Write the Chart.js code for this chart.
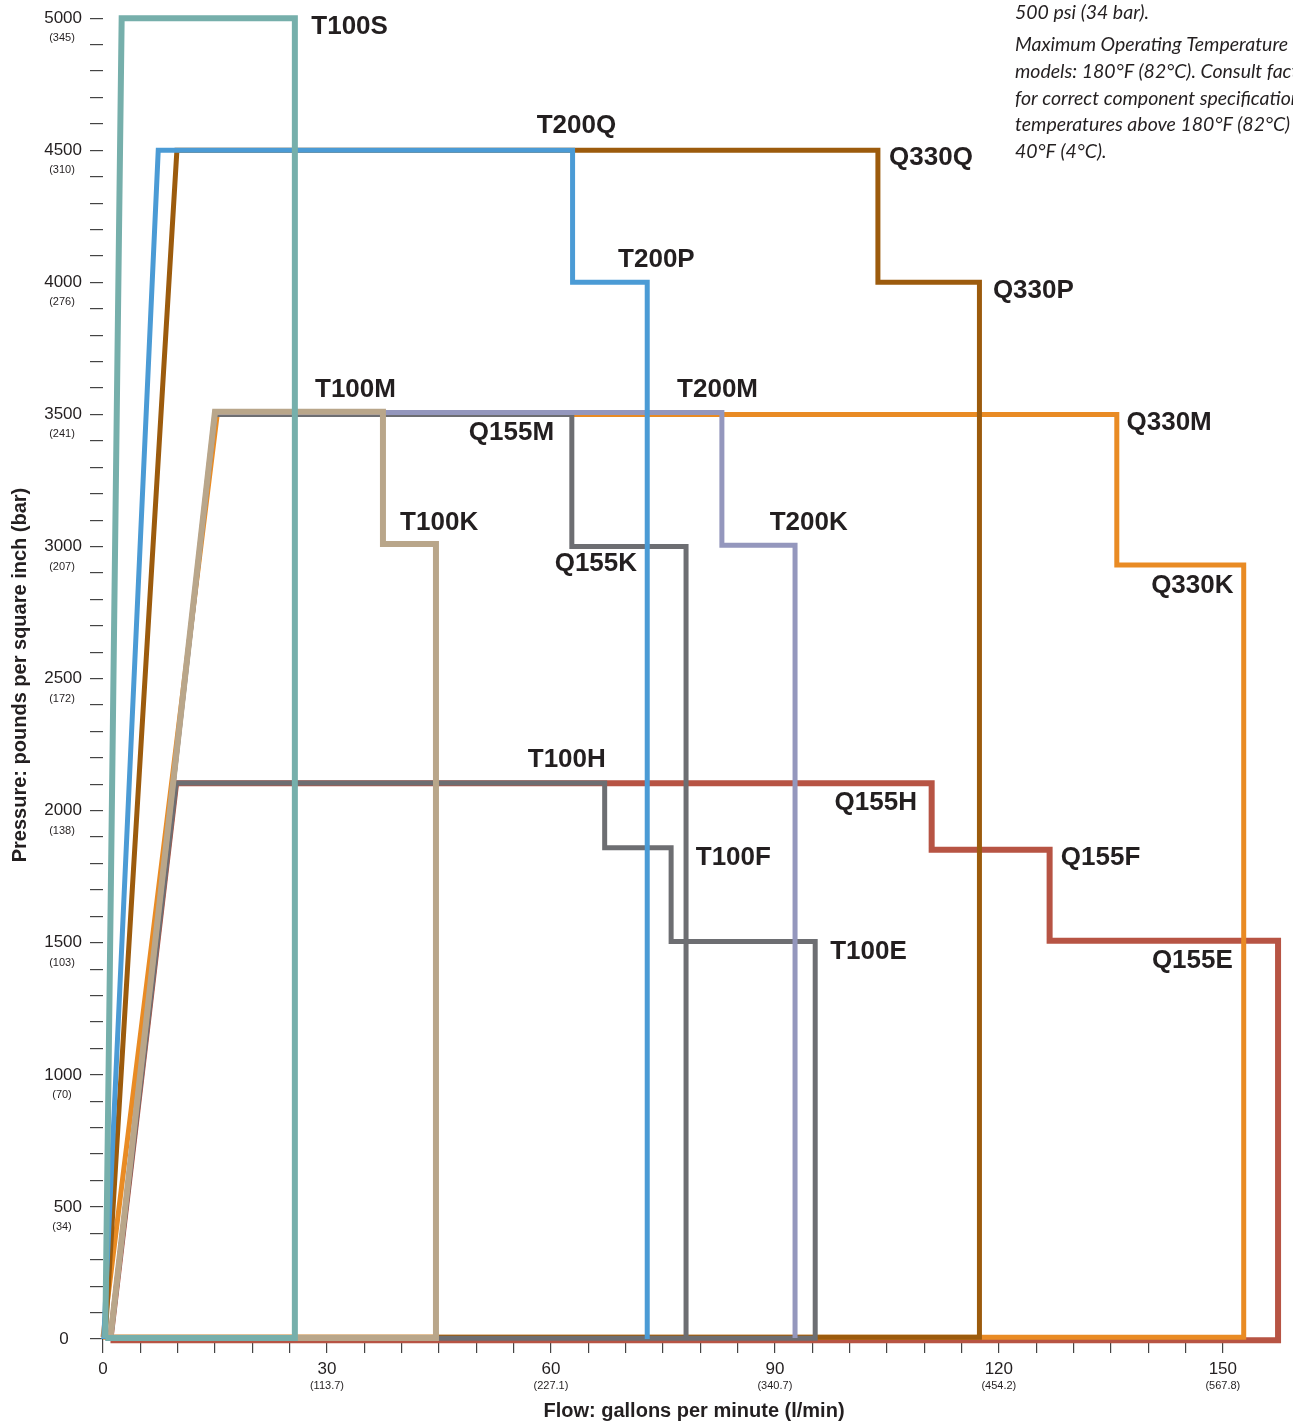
<!DOCTYPE html>
<html>
<head>
<meta charset="utf-8">
<script src="https://cdn.jsdelivr.net/npm/chart.js@4.4.1/dist/chart.umd.min.js"></script>
<style>
  html, body { margin: 0; padding: 0; background: #fff; }
  #wrap { width: 1293px; height: 1425px; position: relative; }
</style>
</head>
<body>
<div id="wrap"><canvas id="chart"></canvas></div>
<script>
// flow (gpm) / pressure (psi) outlines
const t100sX = [0.3, 2.5, 25.7, 25.7, 0.3];
const t100sY = [4, 5000, 5000, 4, 4];
const t200X = [0.1, 7.4, 62.9, 62.9, 72.9, 72.9];
const t200Y = [0, 4500, 4500, 4000, 4000, 0];
const q330qX = [0.3, 9.9, 103.8, 103.8, 117.4, 117.4, 0.3];
const q330qY = [7, 4500, 4500, 4000, 4000, 7, 7];
const t100mX = [1, 15, 37.5, 37.5, 44.6, 44.6, 1];
const t100mY = [4, 3510, 3510, 3010, 3010, 4, 4];
const t200mX = [1, 15, 82.9, 82.9, 92.7, 92.7];
const t200mY = [0, 3507, 3507, 3005, 3005, 4];
const q155mX = [1, 15, 62.8, 62.8, 78.1, 78.1];
const q155mY = [0, 3500, 3500, 3000, 3000, 4];
const q330mX = [0, 15.3, 135.8, 135.8, 152.8, 152.8, 0];
const q330mY = [7, 3500, 3500, 2930, 2930, 7, 7];
const t100hX = [1, 9.8, 67.2, 67.2, 76.1, 76.1, 95.4, 95.4, 1];
const t100hY = [0, 2105, 2105, 1860, 1860, 1505, 1505, 3, 3];
const q155hX = [1, 9.8, 111.0, 111.0, 126.8, 126.8, 157.4, 157.4, 1];
const q155hY = [0, 2104, 2104, 1852, 1852, 1508, 1508, -5, -5];

// model labels and where they sit (gpm, psi)
const modelNames = ['T100S', 'T200Q', 'Q330Q', 'T200P', 'Q330P', 'T100M', 'T200M', 'Q155M', 'Q330M',
  'T100K', 'T200K', 'Q155K', 'Q330K', 'T100H', 'Q155H', 'T100F', 'Q155F', 'T100E', 'Q155E'];
const labelGpm = [27.9, 58.1, 105.3, 69.0, 119.2, 28.4, 76.9, 49.0, 137.1,
  39.8, 89.3, 60.5, 140.4, 56.9, 98.0, 79.4, 128.3, 97.4, 140.5];
const labelPsi = [4966, 4592, 4471, 4085, 3968, 3594, 3594, 3432, 3469,
  3091, 3091, 2933, 2850, 2192, 2029, 1822, 1822, 1466, 1432];

// tick labels
const gpmMajor = [0, 30, 60, 90, 120, 150];
const lpmLabels = ['', '(113.7)', '(227.1)', '(340.7)', '(454.2)', '(567.8)'];
const psiMajor = [0, 500, 1000, 1500, 2000, 2500, 3000, 3500, 4000, 4500, 5000];
const barLabels = ['', '(34)', '(70)', '(103)', '(138)', '(172)', '(207)', '(241)', '(276)', '(310)', '(345)'];

const notes = [
  '500 psi (34 bar).',
  'Maximum Operating Temperature for all',
  'models: 180°F (82°C). Consult factory',
  'for correct component specifications',
  'temperatures above 180°F (82°C) or below',
  '40°F (4°C).'
];

function pts(xs, ys) {
  return xs.map((x, i) => ({ x: x, y: ys[i] }));
}

function outline(name, xs, ys, color, width) {
  return {
    label: name,
    data: pts(xs, ys),
    showLine: true,
    borderColor: color,
    backgroundColor: color,
    borderWidth: width || 5,
    pointRadius: 0,
    tension: 0,
    borderJoinStyle: 'miter',
    clip: false
  };
}

const extras = {
  id: 'extras',
  afterDraw(chart) {
    const ctx = chart.ctx;
    const xs = chart.scales.x;
    const ys = chart.scales.y;
    ctx.save();
    ctx.fillStyle = '#231f20';
    ctx.textAlign = 'center';
    ctx.textBaseline = 'middle';

    // the y "0" sits further left than the others
    ctx.font = '17px "Liberation Sans", Arial, sans-serif';
    ctx.fillText('0', 64, ys.getPixelForValue(0));

    // secondary (metric) tick labels
    ctx.font = '11px "Liberation Sans", Arial, sans-serif';
    psiMajor.forEach((v, i) => {
      if (barLabels[i]) ctx.fillText(barLabels[i], 62, ys.getPixelForValue(v) + 20);
    });
    gpmMajor.forEach((v, i) => {
      if (lpmLabels[i]) ctx.fillText(lpmLabels[i], xs.getPixelForValue(v), 1386);
    });

    // axis titles
    ctx.font = 'bold 20px "Liberation Sans", Arial, sans-serif';
    ctx.fillText('Flow: gallons per minute (l/min)', 694, 1411);
    ctx.save();
    ctx.translate(20, 675);
    ctx.rotate(-Math.PI / 2);
    ctx.fillText('Pressure: pounds per square inch (bar)', 0, 0);
    ctx.restore();

    // model labels
    ctx.font = 'bold 26px "Liberation Sans", Arial, sans-serif';
    ctx.textAlign = 'left';
    modelNames.forEach((n, i) => {
      ctx.fillText(n, xs.getPixelForValue(labelGpm[i]), ys.getPixelForValue(labelPsi[i]));
    });

    // note text, cut by the page edge
    ctx.font = 'italic 19.5px Lato, "Open Sans", sans-serif';
    const lineY = [13, 45, 72, 99, 125, 152];
    notes.forEach((t, i) => ctx.fillText(t, 1015, lineY[i]));
    ctx.restore();
  }
};

const ctx = document.getElementById('chart');
new Chart(ctx, {
  type: 'scatter',
  data: {
    // first dataset is drawn on top
    datasets: [
      outline('T100S', t100sX, t100sY, '#76afab', 6),
      outline('T200', t200X, t200Y, '#4b9bd5'),
      outline('T100M', t100mX, t100mY, '#b9a68a', 6),
      outline('T200M', t200mX, t200mY, '#9497bd'),
      outline('Q155M', q155mX, q155mY, '#6d6e72'),
      outline('T100H', t100hX, t100hY, '#6d6e72'),
      outline('Q330Q', q330qX, q330qY, '#9c5b0d'),
      outline('Q330M', q330mX, q330mY, '#e98b24'),
      outline('Q155H', q155hX, q155hY, '#b75444', 6)
    ]
  },
  options: {
    responsive: true,
    maintainAspectRatio: false,
    animation: false,
    layout: { padding: { top: 16, right: 3, left: 0, bottom: 0 } },
    plugins: {
      legend: { display: false },
      tooltip: { enabled: false }
    },
    scales: {
      x: {
        type: 'linear',
        min: 0,
        max: 159,
        afterBuildTicks: s => { s.ticks = s.ticks.filter(t => t.value % 5 === 0); },
        afterFit: s => { s.height = 86; },
        border: { display: false },
        grid: { drawOnChartArea: false, drawTicks: true, tickLength: 14, color: '#444', lineWidth: 1.2 },
        ticks: {
          stepSize: 5,
          autoSkip: false,
          maxRotation: 0,
          padding: 6,
          color: '#231f20',
          font: { size: 17, family: '"Liberation Sans", Arial, sans-serif' },
          callback: v => (v % 30 === 0 ? String(v) : '')
        }
      },
      y: {
        type: 'linear',
        min: 0,
        max: 5000,
        afterFit: s => { s.width = 103; },
        border: { display: false },
        grid: { drawOnChartArea: false, drawTicks: true, tickLength: 13, color: '#444', lineWidth: 1.2 },
        ticks: {
          stepSize: 100,
          autoSkip: false,
          padding: 8,
          color: '#231f20',
          font: { size: 17, family: '"Liberation Sans", Arial, sans-serif' },
          callback: v => (v > 0 && v % 500 === 0 ? String(v) : '')
        }
      }
    }
  },
  plugins: [extras]
});
</script>
</body>
</html>
